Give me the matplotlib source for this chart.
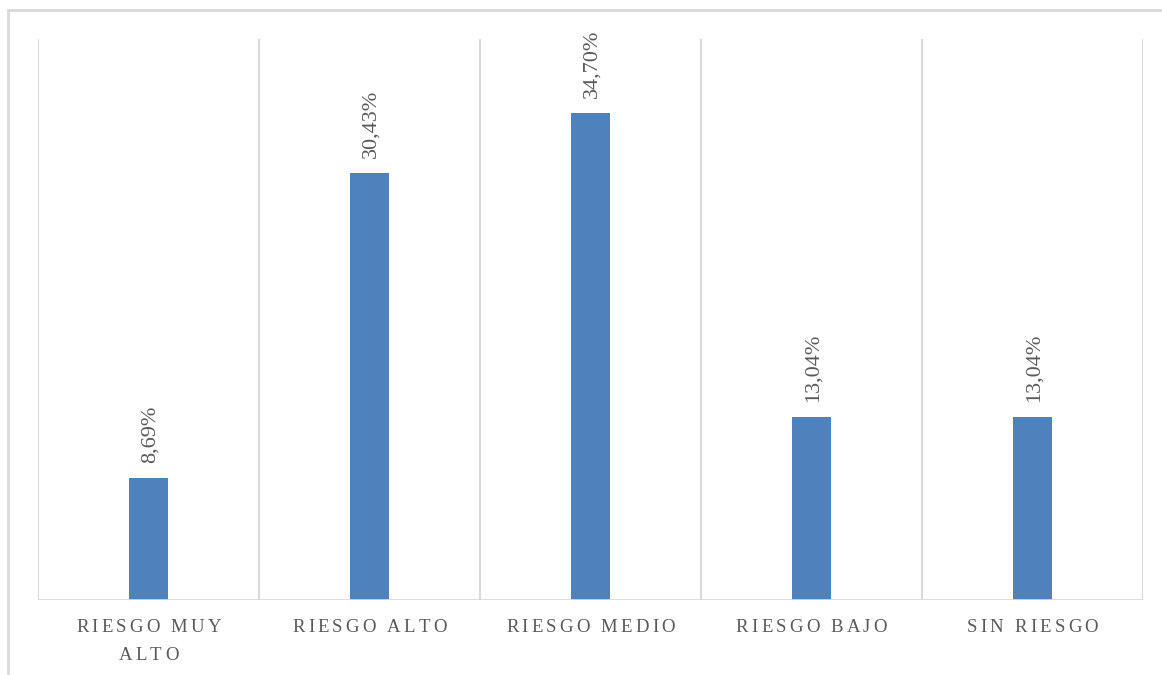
import matplotlib.pyplot as plt
from matplotlib.patches import Rectangle
from matplotlib.transforms import offset_copy

categorias = ["RIESGO MUY\nALTO", "RIESGO ALTO", "RIESGO MEDIO", "RIESGO BAJO", "SIN RIESGO"]
valores = [8.69, 30.43, 34.70, 13.04, 13.04]
etiquetas = ["8,69%", "30,43%", "34,70%", "13,04%", "13,04%"]

gris = "#595959"
linea = "#d9d9d9"
azul = "#4f81bd"
fuente = "Liberation Serif"

fig = plt.figure(figsize=(11.62, 6.75), dpi=100)
W, H = 1162, 675
ax = fig.add_axes([38 / W, 1 - 600 / H, (1143 - 38) / W, (600 - 39) / H])

# marco exterior del grafico
fig.patches.append(Rectangle((8 / W, -0.1), 1.2, 1 - 10 / H + 0.1, transform=fig.transFigure,
                             fill=False, edgecolor=linea, linewidth=2))

x = list(range(len(categorias)))
ax.bar(x, valores, width=0.18, color=azul, zorder=3)
ax.set_xlim(-0.5, len(categorias) - 0.5)
ax.set_ylim(0, 40)

for b in [i - 0.5 for i in range(len(categorias) + 1)]:
    ax.axvline(b, color=linea, linewidth=1.5, zorder=1)
ax.axhline(0, color=linea, linewidth=2, zorder=4)

for s in ax.spines.values():
    s.set_visible(False)
ax.set_xticks([])
ax.set_yticks([])

for xi, v, t in zip(x, valores, etiquetas):
    ax.annotate(t, (xi, v), xytext=(1, 11), textcoords="offset points",
                rotation=90, ha="center", va="bottom", fontsize=16,
                color=gris, family=fuente)

# etiquetas del eje con espaciado entre letras
fig.canvas.draw()
r = fig.canvas.get_renderer()
tam = 13.5
track = 3.2


def ancho(ch):
    t = fig.text(0, 0, ch, fontsize=tam, family=fuente)
    w = t.get_window_extent(r).width
    t.remove()
    return w


base = ax.get_xaxis_transform()
for xi, cat in zip(x, categorias):
    for k, ln in enumerate(cat.split("\n")):
        ws = [ancho(c) for c in ln]
        total = sum(ws) + track * (len(ln) - 1)
        pos = -total / 2
        for c, w in zip(ln, ws):
            tr = offset_copy(base, fig=fig, x=pos, y=-28 - 27 * k, units="dots")
            ax.text(xi, 0, c, transform=tr, ha="left", va="center",
                    fontsize=tam, color=gris, family=fuente)
            pos += w + track

fig.savefig("out.png", dpi=100)
